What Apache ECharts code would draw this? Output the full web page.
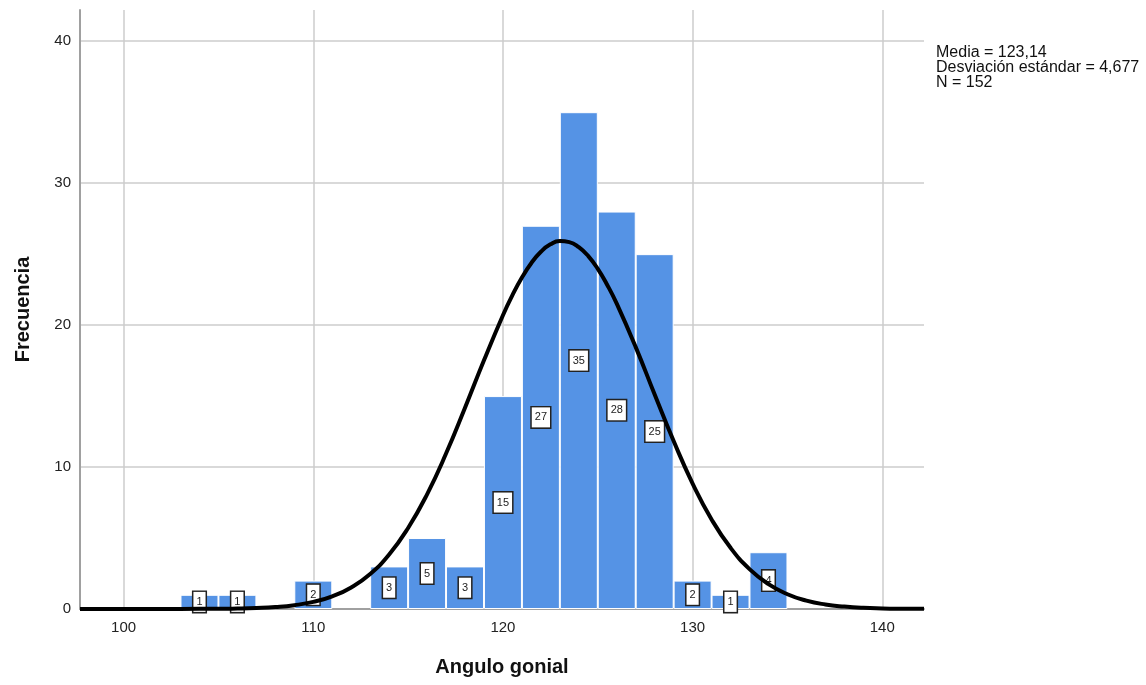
<!DOCTYPE html>
<html>
<head>
<meta charset="utf-8">
<script src="https://cdn.jsdelivr.net/npm/echarts@6/dist/echarts.min.js"></script>
<style>
  html, body { margin: 0; padding: 0; background: #fff; }
  #main { width: 1146px; height: 685px; }
</style>
</head>
<body>
<div id="main"></div>
<script>
// histogram bins (centre of each 2-unit bin) and counts
var binCenters = [104, 106, 110, 114, 116, 118, 120, 122, 124, 126, 128, 130, 132, 134];
var frequencies = [1, 1, 2, 3, 5, 3, 15, 27, 35, 28, 25, 2, 1, 4];

// normal curve
var curveX = [97.7, 100, 102, 104, 105, 106, 107, 108, 109, 110, 111, 112, 113, 114, 115, 116, 117, 118, 119, 120, 120.5,
  121, 121.5, 122, 122.5, 123, 123.5, 124, 124.5, 125, 125.5, 126, 127, 128, 129, 130, 131, 132, 133, 134, 135, 136, 137, 138, 139, 140, 141, 142.2];
var curveY = [0, 0, 0, 0.01, 0.01, 0.03, 0.07, 0.14, 0.27, 0.5, 0.89, 1.52, 2.47, 3.84, 5.71, 8.08, 10.95, 14.18, 17.52, 20.7, 22.11,
  23.35, 24.38, 25.17, 25.69, 25.92, 25.85, 25.49, 24.86, 23.96, 22.83, 21.51, 18.45, 15.11, 11.83, 8.84, 6.31, 4.31, 2.81, 1.75, 1.04, 0.59, 0.32, 0.17, 0.08, 0.04, 0.02, 0.01];

var xTicks = [100, 110, 120, 130, 140];
var yTicks = [0, 10, 20, 30, 40];
var statsText = ["Media = 123,14", "Desviación estándar = 4,677", "N = 152"];

var chartDom = document.getElementById("main");
var myChart = echarts.init(chartDom);

var barData = binCenters.map(function (c, i) { return [c, frequencies[i]]; });
var curveData = curveX.map(function (x, i) { return [x, curveY[i]]; });

var option = {
  animation: false,
  textStyle: { fontFamily: "Liberation Sans, Arial, sans-serif" },
  title: {
    text: statsText.join("\n"),
    left: 931,
    top: 40,
    textStyle: { fontSize: 16, fontWeight: "normal", color: "#111", lineHeight: 15 }
  },
  grid: { left: 80, right: 222, top: 10, bottom: 76 },
  xAxis: {
    type: "value",
    min: 97.7,
    max: 142.2,
    name: "Angulo gonial",
    nameLocation: "middle",
    nameGap: 48,
    nameTextStyle: { fontSize: 20, fontWeight: "bold", color: "#111" },
    axisLine: { show: true, lineStyle: { color: "#a0a0a0", width: 2 } },
    axisTick: { show: false, customValues: xTicks },
    axisLabel: { customValues: xTicks, fontSize: 15, color: "#222", margin: 11 },
    splitLine: { show: false }
  },
  yAxis: {
    type: "value",
    min: 0,
    max: 42.2,
    name: "Frecuencia",
    nameLocation: "middle",
    nameGap: 47,
    nameTextStyle: { fontSize: 20, fontWeight: "bold", color: "#111" },
    axisLine: { show: true, lineStyle: { color: "#a0a0a0", width: 2 } },
    axisTick: { show: false, customValues: yTicks },
    axisLabel: { customValues: yTicks, fontSize: 15, color: "#222", margin: 9 },
    splitLine: { show: false }
  },
  series: [
    {
      // grid lines drawn as mark lines so they land on the round values
      type: "line",
      data: [],
      silent: true,
      z: 0,
      markLine: {
        z: 0,
        symbol: "none",
        silent: true,
        label: { show: false },
        lineStyle: { color: "#cccccc", width: 1.5, type: "solid" },
        data: xTicks.map(function (v) { return { xAxis: v }; })
          .concat(yTicks.slice(1).map(function (v) { return { yAxis: v }; }))
      }
    },
    {
      type: "bar",
      data: barData,
      barWidth: 38,
      z: 3,
      itemStyle: { color: "#5593e5", borderColor: "#ffffff", borderWidth: 1 },
      label: {
        show: true,
        position: "inside",
        formatter: function (p) { return p.value[1]; },
        fontSize: 11,
        color: "#222",
        backgroundColor: "#fff",
        borderColor: "#222",
        borderWidth: 1.5,
        padding: [5, 3, 4, 3]
      }
    },
    {
      type: "line",
      data: curveData,
      smooth: true,
      showSymbol: false,
      symbol: "none",
      lineStyle: { color: "#000", width: 4 },
      z: 5
    }
  ]
};

option && myChart.setOption(option);
</script>
</body>
</html>
